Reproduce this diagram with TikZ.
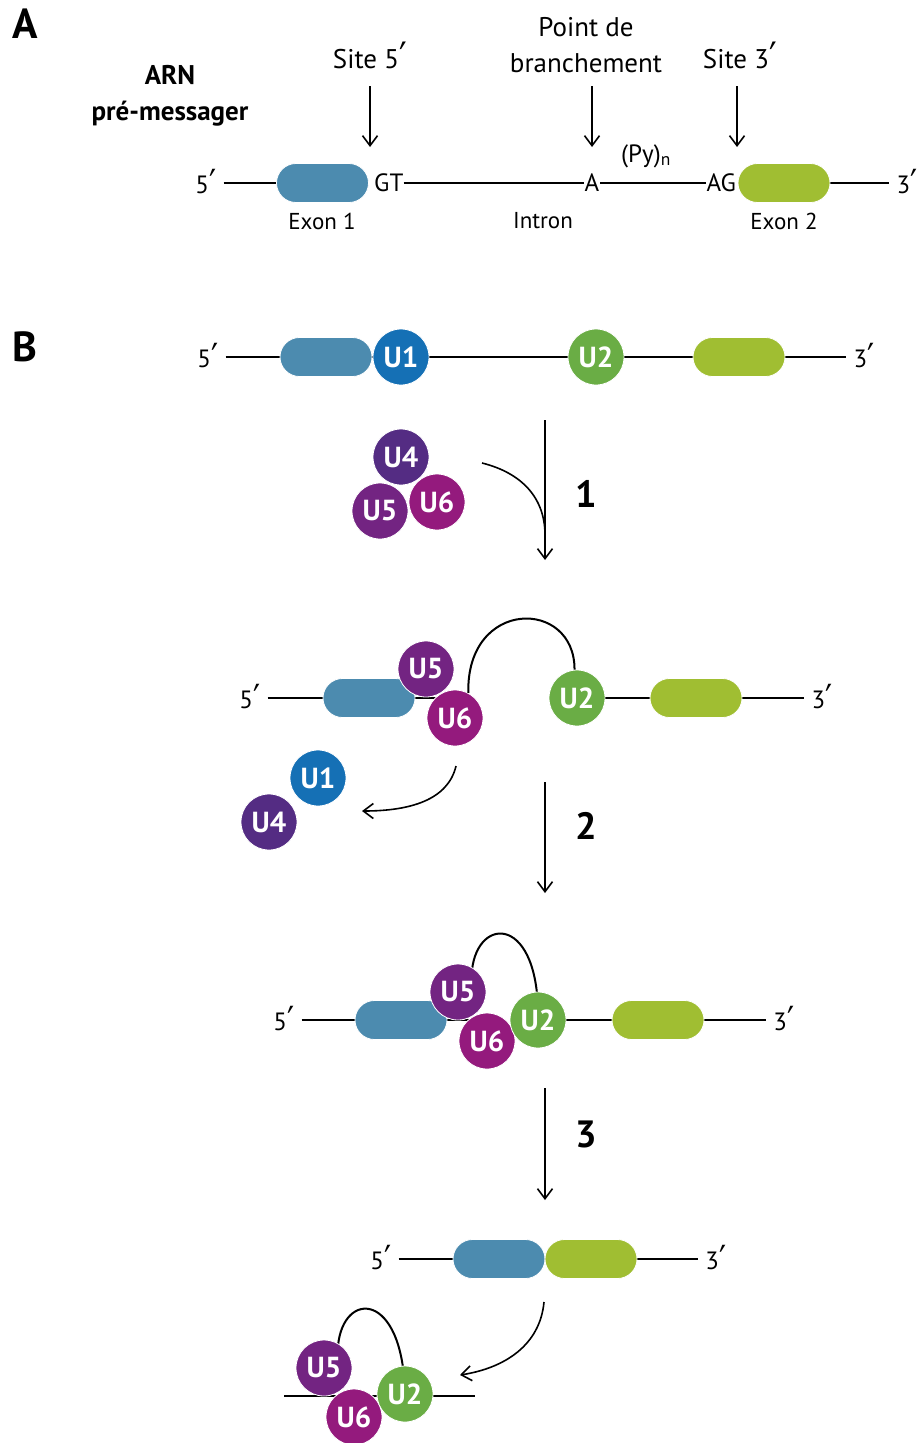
\documentclass[tikz,border=0pt]{standalone}
\usepackage{fontspec}
\setmainfont{PT Sans}
\newfontfamily\primefont{DejaVu Sans}
\newcommand{\pr}{\kern0.3pt\raisebox{-0.13em}{\scalebox{1.25}[1.55]{\primefont\char"2032}}}
\usetikzlibrary{arrows.meta,backgrounds,calc}
\definecolor{exA}{HTML}{4C8BAF}
\definecolor{exB}{HTML}{A0BE32}
\definecolor{cU1}{HTML}{1570B5}
\definecolor{cU2}{HTML}{6AAD45}
\definecolor{cU4}{HTML}{542C83}
\definecolor{cU5}{HTML}{732482}
\definecolor{cU6}{HTML}{941A7D}
\newcommand{\fs}[1]{\fontsize{#1}{36}\selectfont}
\tikzset{
  exon/.style={rectangle, rounded corners=19.5pt, minimum width=92pt, minimum height=39pt, draw=white, line width=0.8pt, inner sep=0pt},
  exonone/.style={exon, fill=exA},
  exontwo/.style={exon, fill=exB},
  snr/.style={circle, minimum size=56pt, inner sep=0pt, draw=white, line width=0.8pt, text=white, font=\bfseries\fs{29}},
  lab/.style={font=\fs{27}, inner sep=1pt},
  end/.style={font=\fs{25}, inner sep=1pt},
  small/.style={font=\fs{23}, inner sep=1pt},
  rna/.style={line width=2.4pt},
  loopline/.style={line width=2pt},
  arr/.style={line width=1.6pt, -{Straight Barb[length=10pt, width=15pt, line width=1.6pt]}},
  plain/.style={line width=1.6pt},
  stepnum/.style={font=\bfseries\fs{38}},
  panel/.style={font=\bfseries\fs{42}}
}
\begin{document}
\begin{tikzpicture}[x=1pt,y=-1pt]
\useasboundingbox (0,0) rectangle (921,1443);
% ---------------- Panel A
\node[panel] (pA) at (25,24) {A};
\node[font=\bfseries\fs{27}, align=center] (arn) at (170,96) {ARN\\pré-messager};
\node[lab] (s5) at (370,57) {Site 5\pr};
\node[lab, align=center] (pb) at (586,45) {Point de\\branchement};
\node[lab] (s3) at (740,57) {Site 3\pr};
\coordinate (s5a) at (370,86); \coordinate (s5b) at (370,147);
\coordinate (pba) at (592,86); \coordinate (pbb) at (592,147);
\coordinate (s3a) at (737,86); \coordinate (s3b) at (737,147);
\draw[arr] (s5a) -- (s5b);
\draw[arr] (pba) -- (pbb);
\draw[arr] (s3a) -- (s3b);

\node[end] (t5A) at (206,183) {5\pr};
\node[exonone] (ex1A) at (322.5,183) {};
\node[end, anchor=west, inner sep=0pt] (gt) at (374,183) {GT};
\node[end, inner sep=0.5pt] (aA) at (592,183) {A};
\node[end] (py) at (646,156) {(Py)\textsubscript{n}};
\node[end, anchor=east, inner sep=0pt] (ag) at (736,183) {AG};
\node[exontwo] (ex2A) at (784,183) {};
\node[end] (t3A) at (907,183) {3\pr};
\node[small] (e1l) at (322,221) {Exon 1};
\node[small] (inl) at (543,221) {Intron};
\node[small] (e2l) at (784,221) {Exon 2};
\begin{scope}[on background layer]
\draw[rna] ($(t5A.east)+(6,0)$) -- (ex1A.west);
\draw[rna] (gt.east) -- (aA.west);
\draw[rna] (aA.east) -- (ag.west);
\draw[rna] (ex2A.east) -- ($(t3A.west)+(-6,0)$);
\end{scope}

% ---------------- Panel B
\node[panel] (pB) at (25,347) {B};
% row 1
\node[end] (t5a) at (208,357) {5\pr};
\node[exonone] (ex1a) at (326,357) {};
\node[snr, fill=cU1] (u1a) at (401,357) {U1};
\node[snr, fill=cU2] (u2a) at (596,357) {U2};
\node[exontwo] (ex2a) at (739,357) {};
\node[end] (t3a) at (864,357) {3\pr};
\begin{scope}[on background layer]
\draw[rna] ($(t5a.east)+(6,0)$) -- ($(t3a.west)+(-6,0)$);
\end{scope}

% cluster
\node[snr, fill=cU4] (u4c) at (401,457) {U4};
\node[snr, fill=cU5] (u5c) at (380,511) {U5};
\node[snr, fill=cU6] (u6c) at (437,502) {U6};

% arrow 1
\coordinate (a1s) at (545,420); \coordinate (a1e) at (545,560);
\draw[arr] (a1s) -- (a1e);
\coordinate (c1s) at (482,463); \coordinate (c1e) at (545,535);
\draw[plain] (c1s) .. controls (522,473) and (545,498) .. (c1e);
\node[stepnum] (n1) at (586,494) {1};

% row 2
\node[end] (t5b) at (250,698) {5\pr};
\node[exonone] (ex1b) at (369,698) {};
\node[snr, fill=cU5] (u5b) at (426,669) {U5};
\node[snr, fill=cU6] (u6b) at (455,718) {U6};
\node[snr, fill=cU2] (u2b) at (577,698) {U2};
\node[exontwo] (ex2b) at (696,698) {};
\node[end] (t3b) at (822,698) {3\pr};
\begin{scope}[on background layer]
\draw[rna] ($(t5b.east)+(6,0)$) -- (ex1b.west);
\draw[rna] (ex1b.east) -- (ex1b.east -| u6b.center);
\draw[rna] (u2b.east) -- (ex2b.west);
\draw[rna] (ex2b.east) -- ($(t3b.west)+(-6,0)$);
\end{scope}
\draw[loopline] (u6b.62) .. controls (466,598) and (575,598) .. (u2b.95);

\node[snr, fill=cU1] (u1d) at (318,778) {U1};
\node[snr, fill=cU4] (u4d) at (269,822) {U4};
\coordinate (c2s) at (456,766); \coordinate (c2e) at (362,811);
\draw[arr] (c2s) .. controls (448,800) and (410,811) .. (c2e);

% arrow 2
\coordinate (a2s) at (545,782); \coordinate (a2e) at (545,893);
\draw[arr] (a2s) -- (a2e);
\node[stepnum] (n2) at (586,826) {2};

% row 3
\node[end] (t5c) at (284,1020) {5\pr};
\node[exonone] (ex1c) at (401,1020) {};
\node[snr, fill=cU5] (u5c3) at (458,992) {U5};
\node[snr, fill=cU6] (u6c3) at (487,1041) {U6};
\node[snr, fill=cU2] (u2c) at (538,1020) {U2};
\node[exontwo] (ex2c) at (658,1020) {};
\node[end] (t3c) at (784,1020) {3\pr};
\begin{scope}[on background layer]
\draw[rna] ($(t5c.east)+(6,0)$) -- (ex1c.west);
\draw[rna] (ex1c.east) -- (ex1c.east -| u6c3.center);
\draw[rna] (u2c.east) -- (ex2c.west);
\draw[rna] (ex2c.east) -- ($(t3c.west)+(-6,0)$);
\draw[loopline] ($(u5c3.center)+(14,-22)$) .. controls (478,915) and (540,915) .. (u2c.center);
\end{scope}

% arrow 3
\coordinate (a3s) at (545,1088); \coordinate (a3e) at (545,1200);
\draw[arr] (a3s) -- (a3e);
\node[stepnum] (n3) at (586,1134) {3};

% row 4
\node[end] (t5d) at (381,1259) {5\pr};
\node[exonone] (ex1d) at (499,1259) {};
\node[exontwo] (ex2d) at (591,1259) {};
\node[end] (t3d) at (716,1259) {3\pr};
\begin{scope}[on background layer]
\draw[rna] ($(t5d.east)+(6,0)$) -- (ex1d.west);
\draw[rna] (ex2d.east) -- ($(t3d.west)+(-6,0)$);
\end{scope}

\coordinate (c4s) at (544,1302); \coordinate (c4e) at (460,1375);
\draw[arr] (c4s) .. controls (540,1345) and (505,1368) .. (c4e);

% bottom complex
\coordinate (bl) at (284,1396); \coordinate (br) at (475,1396);
\node[snr, fill=cU5] (u5e) at (324,1368) {U5};
\node[snr, fill=cU6] (u6e) at (354,1417) {U6};
\node[snr, fill=cU2] (u2e) at (405,1394) {U2};
\begin{scope}[on background layer]
\draw[rna] (bl) -- (br);
\draw[loopline] ($(u5e.center)+(14,-22)$) .. controls (343,1290) and (403,1290) .. (u2e.center);
\end{scope}
\end{tikzpicture}
\end{document}
